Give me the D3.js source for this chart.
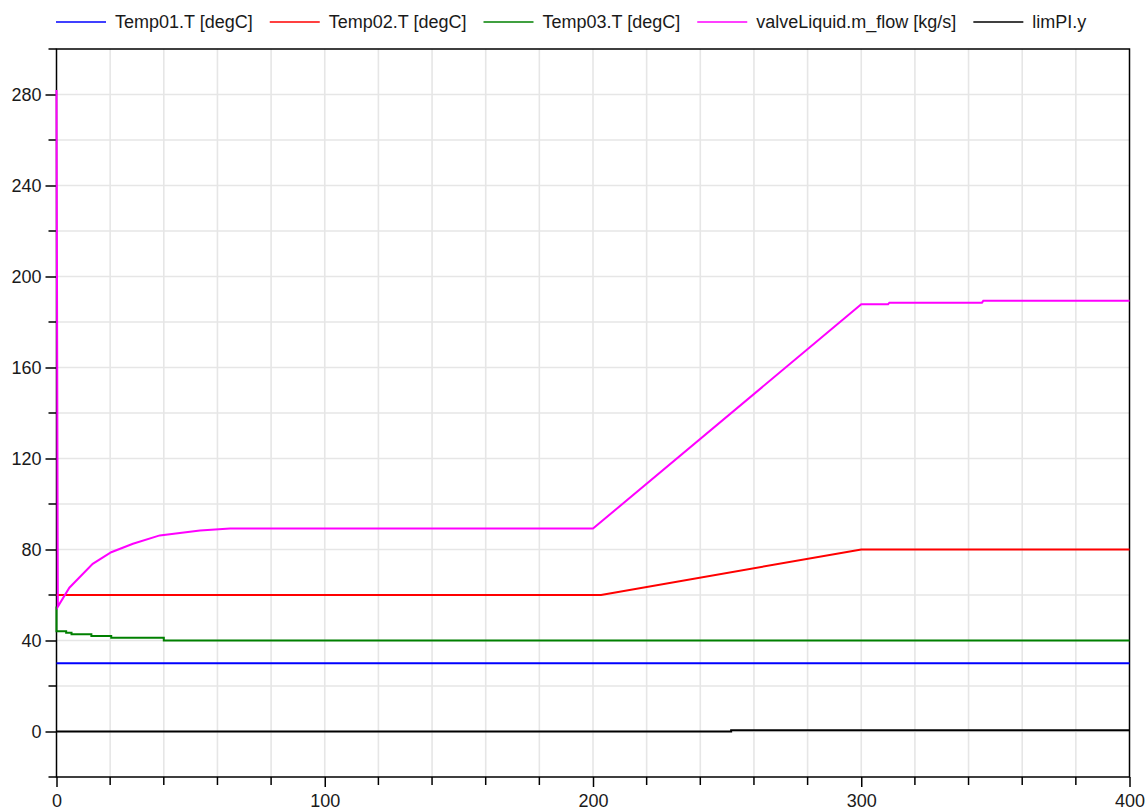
<!DOCTYPE html>
<html>
<head>
<meta charset="utf-8">
<script src="https://cdn.jsdelivr.net/npm/d3@7"></script>
<style>
  body { margin: 0; background: #fff; }
  svg { display: block; font-family: "Liberation Sans", Arial, sans-serif; }
</style>
</head>
<body>
<svg width="1146" height="810"></svg>
<script>
// series names / colours
var seriesNames = ["Temp01.T [degC]", "Temp02.T [degC]", "Temp03.T [degC]", "valveLiquid.m_flow [kg/s]", "limPI.y"];
var seriesColors = ["#0000ff", "#ff0000", "#008000", "#ff00ff", "#000000"];

// values (time in s)
var temp01T = [0, 400];
var temp01V = [30, 30];

var temp02T = [0, 200, 203, 300, 400];
var temp02V = [60, 60, 60, 80, 80];

var temp03T = [0, 0, 3.6, 5.6, 13, 20.4, 40, 400];
var temp03V = [55, 44.1, 43.4, 42.7, 42, 41.2, 40, 40];

var flowT = [0, 0.5, 4.8, 13.5, 20.4, 28.5, 38.5, 46, 53.5, 64.7, 200, 300, 310, 310.5, 345, 345.5, 400];
var flowV = [282, 54.9, 63.2, 73.7, 78.8, 82.5, 86.2, 87.3, 88.4, 89.2, 89.2, 187.8, 187.8, 188.5, 188.5, 189.3, 189.3];

var limT = [0, 251.5, 400];
var limV = [0, 0.5, 0.5];

var xTicks = [0, 100, 200, 300, 400];
var yTicks = [0, 40, 80, 120, 160, 200, 240, 280];

var margin = {top: 49, right: 16.5, bottom: 33, left: 56.5},
    width = 1146 - margin.left - margin.right,
    height = 810 - margin.top - margin.bottom;

var svg = d3.select("svg");
var g = svg.append("g")
    .attr("transform", "translate(" + margin.left + "," + margin.top + ")");

var x = d3.scaleLinear().domain([0, 400]).range([0, width]);
var y = d3.scaleLinear().domain([-20, 300]).range([height, 0]);

//grid every 20
g.append("g").selectAll("line.gx")
    .data(d3.range(20, 400, 20))
    .enter().append("line")
    .attr("x1", d => x(d)).attr("x2", d => x(d))
    .attr("y1", 0).attr("y2", height)
    .attr("stroke", "#e6e6e6").attr("stroke-width", 1.6);
g.append("g").selectAll("line.gy")
    .data(d3.range(0, 300, 20))
    .enter().append("line")
    .attr("x1", 0).attr("x2", width)
    .attr("y1", d => y(d)).attr("y2", d => y(d))
    .attr("stroke", "#e6e6e6").attr("stroke-width", 1.6);

//axes
var yAxis = d3.axisLeft(y).tickValues(yTicks).tickSize(11).tickPadding(4);
var ya = g.append("g").call(yAxis);
var xAxis = d3.axisBottom(x).tickValues(xTicks).tickSize(10).tickPadding(6);
var xa = g.append("g").attr("transform", "translate(0," + height + ")").call(xAxis);
[ya, xa].forEach(function (a) {
    a.select(".domain").remove();
    a.selectAll("line").attr("stroke", "#000").attr("stroke-width", 1.5);
    a.selectAll("text").attr("fill", "#1a1a1a").style("font-size", "18px");
});
xa.selectAll("text").attr("dy", null).attr("y", 30);

//minor ticks
g.append("g").selectAll("line")
    .data(d3.range(-20, 301, 40))
    .enter().append("line")
    .attr("x1", -8).attr("x2", 0)
    .attr("y1", d => y(d)).attr("y2", d => y(d))
    .attr("stroke", "#000").attr("stroke-width", 1.5);
g.append("g").selectAll("line")
    .data(d3.range(20, 400, 20).filter(d => d % 100 !== 0))
    .enter().append("line")
    .attr("x1", d => x(d)).attr("x2", d => x(d))
    .attr("y1", height).attr("y2", height + 8)
    .attr("stroke", "#000").attr("stroke-width", 1.5);

//frame
g.append("path")
    .attr("d", "M0,0V" + height + "H" + width + "V0Z")
    .attr("fill", "none")
    .attr("stroke", "#000")
    .attr("stroke-width", 1.5);

//series (drawn over the frame, like the reference)
var series = [
    {t: temp01T, v: temp01V, curve: d3.curveLinear},
    {t: temp02T, v: temp02V, curve: d3.curveLinear},
    {t: temp03T, v: temp03V, curve: d3.curveStepAfter},
    {t: flowT, v: flowV, curve: d3.curveLinear},
    {t: limT, v: limV, curve: d3.curveStepAfter}
];
series.forEach(function (s, i) {
    var pts = s.t.map((t, k) => [t, s.v[k]]);
    var line = d3.line().x(d => x(d[0])).y(d => y(d[1])).curve(s.curve);
    g.append("path")
        .attr("d", line(pts))
        .attr("fill", "none")
        .attr("stroke", seriesColors[i])
        .attr("stroke-width", 2);
});

//legend
var lx = 56;
var leg = svg.append("g");
seriesNames.forEach(function (name, i) {
    leg.append("line")
        .attr("x1", lx).attr("x2", lx + 50)
        .attr("y1", 22).attr("y2", 22)
        .attr("stroke", seriesColors[i]).attr("stroke-width", 1.5);
    var t = leg.append("text")
        .attr("x", lx + 59).attr("y", 27.5)
        .attr("fill", "#1a1a1a")
        .style("font-size", "18px")
        .text(name);
    lx += 59 + t.node().getComputedTextLength() + 17;
});
</script>
</body>
</html>
